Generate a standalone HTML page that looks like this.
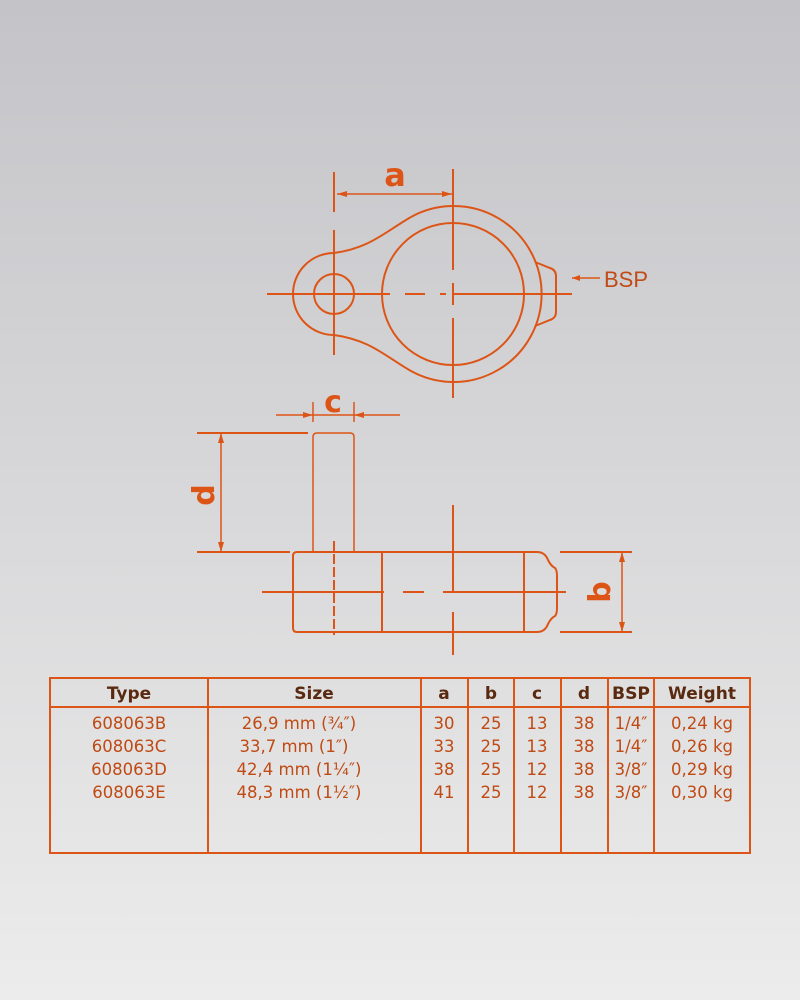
<!DOCTYPE html>
<html><head><meta charset="utf-8"><style>
html,body{margin:0;padding:0}
body{width:800px;height:1000px;background:linear-gradient(#c4c4c8,#d8d8da 50%,#ececec);position:relative;font-family:"DejaVu Sans","Liberation Sans",sans-serif;overflow:hidden}
svg{position:absolute;left:0;top:0}
</style></head><body>
<svg width="800" height="1000" viewBox="0 0 800 1000">
<g fill="none" stroke="#dd5516" stroke-width="2">
<path d="M411,217 A88,88 0 1,1 411,371"/>
<circle cx="453" cy="294" r="71"/>
<circle cx="334" cy="294" r="20"/>
<path d="M411,217 C385,232 370,248 334,253 A41,41 0 0,0 334,335 C370,340 385,356 411,371"/>
<path d="M535,262 L550,268 Q556,270 556,276 L556,312 Q556,318 550,320 L535,326"/>
<path d="M267,294 H390 M405,294 H425 M440,294 H446 M452,294 H572"/>
<path d="M453,169 V270 M453,283 V305 M453,318 V398"/>
<path d="M334,172 V212 M334,230 V355"/>
<path d="M337,194 H452" stroke-width="1.5"/>
<path d="M572,278 H600" stroke-width="1.5"/>
<path d="M313,552 V437 Q313,433 317,433 H350 Q354,433 354,437 V552" stroke-width="1.5"/>
<path d="M297,552 H537 Q545,552 548,560 Q551,566 555,568 Q557,570 557,576 V608 Q557,614 555,616 Q551,618 548,624 Q545,632 537,632 H297 Q293,632 293,628 V556 Q293,552 297,552 Z"/>
<path d="M382,552 V632 M524,552 V632"/>
<path d="M262,592 H384 M403,592 H424 M443,592 H566"/>
<path d="M453,505 V592 M453,612 V655"/>
<path d="M334,541 V635" stroke-dasharray="10,3"/>
<path d="M197,433 H308 M197,552 H290 M560,552 H632 M560,632 H632"/>
<path d="M221,433 V552 M622,552 V632 M276,415 H400 M313,402 V422 M354,402 V422" stroke-width="1.5"/>
</g>
<g fill="#dd5516">
<path d="M337,194 l10,-3 v6z M452,194 l-10,-3 v6z M572,278 l8,-3 v6z"/>
<path d="M313,415 l-10,-3 v6z M354,415 l10,-3 v6z"/>
<path d="M221,433 l-3,10 h6z M221,552 l-3,-10 h6z M622,552 l-3,10 h6z M622,632 l-3,-10 h6z"/>
</g>
<g fill="#dd5516" font-family="DejaVu Sans, Liberation Sans, sans-serif" font-weight="bold">
<text x="395" y="186" font-size="32" text-anchor="middle">a</text>
<text x="333" y="412" font-size="30" text-anchor="middle">c</text>
<text transform="translate(214,495) rotate(-90)" font-size="30" text-anchor="middle">d</text>
<text transform="translate(610,592) rotate(-90)" font-size="30" text-anchor="middle">b</text>
</g>
<text x="604" y="287" font-size="22" fill="#c04a18" font-family="Liberation Sans, sans-serif">BSP</text>
<g fill="none" stroke="#dd5516" stroke-width="2">
<rect x="50" y="678" width="700" height="175"/>
<path d="M50,707 H750 M208,678 V853 M421,678 V853 M468,678 V853 M514,678 V853 M561,678 V853 M608,678 V853 M654,678 V853"/>
</g>
<g font-size="17" font-weight="bold" text-anchor="middle" font-family="DejaVu Sans, sans-serif" fill="#5a2a10">
<text x="129" y="699">Type</text>
<text x="314" y="699">Size</text>
<text x="444" y="699">a</text>
<text x="491" y="699">b</text>
<text x="537" y="699">c</text>
<text x="584" y="699">d</text>
<text x="631" y="699" textLength="38" lengthAdjust="spacingAndGlyphs">BSP</text>
<text x="702" y="699">Weight</text>
</g>
<g fill="#c04a14" font-size="16.5" font-family="DejaVu Sans, sans-serif" text-anchor="middle">
<text x="129" y="729">608063B</text><text x="299" y="729">26,9 mm (¾″)</text><text x="444" y="729">30</text><text x="491" y="729">25</text><text x="537" y="729">13</text><text x="584" y="729">38</text><text x="631" y="729">1/4″</text><text x="702" y="729">0,24 kg</text>
<text x="129" y="752">608063C</text><text x="294" y="752">33,7 mm (1″)</text><text x="444" y="752">33</text><text x="491" y="752">25</text><text x="537" y="752">13</text><text x="584" y="752">38</text><text x="631" y="752">1/4″</text><text x="702" y="752">0,26 kg</text>
<text x="129" y="775">608063D</text><text x="299" y="775">42,4 mm (1¼″)</text><text x="444" y="775">38</text><text x="491" y="775">25</text><text x="537" y="775">12</text><text x="584" y="775">38</text><text x="631" y="775">3/8″</text><text x="702" y="775">0,29 kg</text>
<text x="129" y="798">608063E</text><text x="299" y="798">48,3 mm (1½″)</text><text x="444" y="798">41</text><text x="491" y="798">25</text><text x="537" y="798">12</text><text x="584" y="798">38</text><text x="631" y="798">3/8″</text><text x="702" y="798">0,30 kg</text>
</g>
</svg>
</body></html>
